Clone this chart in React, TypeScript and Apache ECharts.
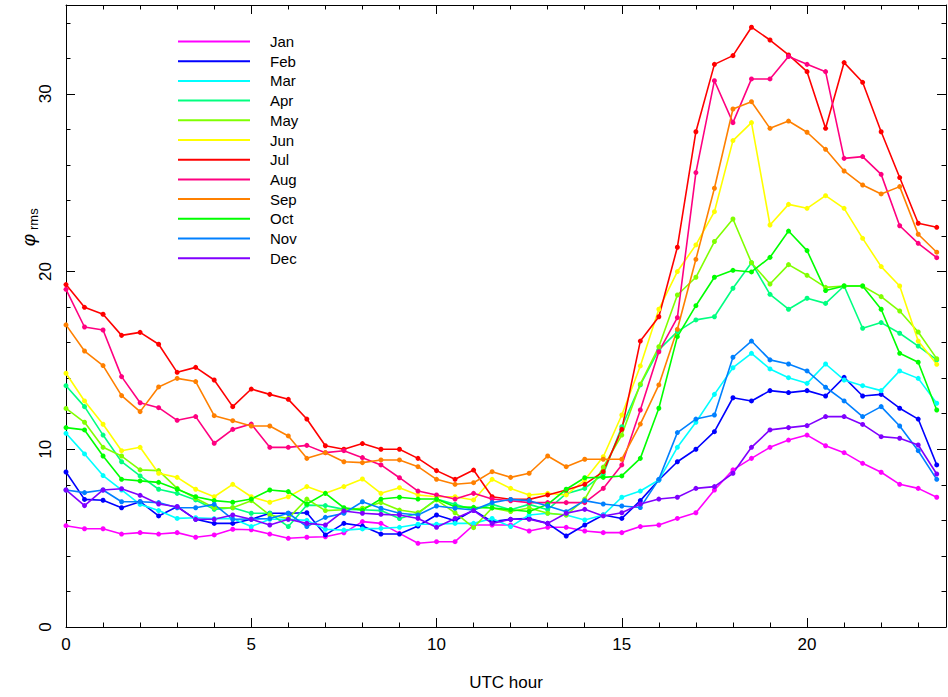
import React, { useEffect, useRef } from "react";
import * as echarts from "echarts";

const HOURS = [0, 0.5, 1, 1.5, 2, 2.5, 3, 3.5, 4, 4.5, 5, 5.5, 6, 6.5, 7, 7.5, 8, 8.5, 9, 9.5, 10, 10.5, 11, 11.5,
  12, 12.5, 13, 13.5, 14, 14.5, 15, 15.5, 16, 16.5, 17, 17.5, 18, 18.5, 19, 19.5, 20, 20.5, 21, 21.5, 22, 22.5, 23, 23.5];

const MONTHS = ["Jan", "Feb", "Mar", "Apr", "May", "Jun", "Jul", "Aug", "Sep", "Oct", "Nov", "Dec"];
const COLORS = ["#ff00ff", "#0000ff", "#00ffff", "#00ff80", "#80ff00", "#ffff00", "#ff0000", "#ff0080", "#ff8000", "#00ff00", "#0080ff", "#8000ff"];

const JAN = [5.7, 5.53, 5.53, 5.23, 5.31, 5.23, 5.31, 5.05, 5.18, 5.5, 5.47, 5.23, 4.99, 5.05, 5.08, 5.3, 5.93, 5.83, 5.27, 4.71, 4.8, 4.8, 5.74, 5.74,
  5.74, 5.4, 5.61, 5.61, 5.4, 5.31, 5.31, 5.65, 5.74, 6.11, 6.43, 7.71, 8.84, 9.49, 10.11, 10.52, 10.8, 10.2, 9.81, 9.21, 8.71, 8.03, 7.8, 7.3];
const FEB = [8.72, 7.18, 7.13, 6.71, 7.05, 6.25, 6.77, 6.06, 5.83, 5.83, 6.06, 6.4, 6.4, 6.43, 5.18, 5.83, 5.68, 5.23, 5.23, 5.68, 6.3, 5.98, 6.58, 5.93,
  6.06, 6.11, 5.83, 5.12, 5.74, 6.3, 6.11, 7.11, 8.27, 9.3, 10.0, 10.99, 12.9, 12.72, 13.3, 13.19, 13.3, 13.0, 14.05, 13.0, 13.09, 12.31, 11.7, 9.12];
const MAR = [10.9, 9.74, 8.52, 7.71, 6.9, 6.55, 6.11, 6.15, 6.1, 6.1, 5.65, 6.06, 6.06, 6.0, 5.5, 5.45, 5.52, 5.55, 5.61, 5.78, 5.78, 5.83, 5.83, 6.11,
  5.65, 6.3, 6.4, 6.3, 6.02, 6.3, 7.3, 7.65, 8.27, 10.11, 11.52, 13.09, 14.59, 15.4, 14.52, 14.03, 13.71, 14.8, 13.9, 13.58, 13.3, 14.41, 13.99, 12.59];
const APR = [13.58, 12.4, 10.8, 9.3, 8.5, 7.75, 7.52, 7.15, 6.62, 6.71, 6.4, 6.4, 5.65, 6.86, 6.83, 6.62, 6.6, 6.55, 6.1, 6.4, 7.2, 6.9, 6.6, 6.9,
  6.6, 6.9, 6.6, 7.5, 7.8, 8.6, 11.27, 13.62, 15.59, 16.62, 17.28, 17.46, 19.06, 20.5, 18.72, 17.88, 18.5, 18.21, 19.19, 16.81, 17.13, 16.53, 15.81, 15.03];
const MAY = [12.3, 11.52, 10.11, 9.62, 8.84, 8.8, 7.8, 7.24, 6.71, 6.71, 7.11, 6.3, 6.11, 7.2, 6.55, 6.6, 6.68, 7.0, 6.58, 6.43, 7.15, 6.43, 5.59, 6.7,
  6.5, 6.7, 6.4, 6.3, 7.2, 9.0, 10.8, 13.67, 15.77, 18.68, 19.68, 21.69, 22.96, 20.5, 19.3, 20.39, 19.79, 19.11, 19.19, 19.19, 18.59, 17.78, 16.6, 15.1];
const JUN = [14.28, 12.72, 11.41, 9.92, 10.11, 8.65, 8.42, 7.75, 7.33, 8.03, 7.33, 7.02, 7.33, 7.9, 7.52, 7.9, 8.33, 7.52, 7.84, 7.43, 7.33, 7.33, 7.15, 8.31,
  7.8, 7.43, 7.52, 7.43, 8.27, 9.58, 11.93, 14.69, 17.88, 20.0, 21.5, 23.37, 27.37, 28.38, 22.62, 23.78, 23.56, 24.27, 23.56, 21.87, 20.28, 19.19, 16.09, 14.78];
const JUL = [19.27, 17.99, 17.6, 16.41, 16.58, 15.91, 14.33, 14.61, 13.9, 12.4, 13.39, 13.09, 12.81, 11.7, 10.2, 10.0, 10.32, 10.0, 10.0, 9.49, 8.8, 8.31, 8.83, 7.33,
  7.18, 7.18, 7.43, 7.71, 8.03, 8.74, 11.12, 16.09, 17.46, 21.37, 27.87, 31.66, 32.15, 33.75, 33.03, 32.19, 31.25, 28.06, 31.76, 30.65, 27.87, 25.29, 22.72, 22.49];
const AUG = [19.0, 16.88, 16.71, 14.09, 12.62, 12.34, 11.63, 11.84, 10.34, 11.12, 11.42, 10.11, 10.11, 10.22, 9.81, 9.92, 9.53, 9.12, 8.4, 7.65, 7.43, 7.2, 7.52, 7.2,
  7.1, 7.0, 7.0, 7.0, 7.0, 7.8, 9.12, 12.21, 15.49, 17.41, 25.57, 30.74, 28.38, 30.84, 30.84, 32.1, 31.66, 31.25, 26.37, 26.47, 25.47, 22.58, 21.59, 20.78];
const SEP = [17.0, 15.53, 14.71, 13.02, 12.12, 13.51, 13.99, 13.81, 11.89, 11.61, 11.31, 11.31, 10.75, 9.49, 9.81, 9.3, 9.25, 9.4, 9.4, 9.02, 8.31, 8.03, 8.12, 8.74,
  8.42, 8.65, 9.62, 9.02, 9.44, 9.44, 9.44, 11.42, 13.62, 16.75, 20.69, 24.69, 29.15, 29.56, 28.06, 28.47, 27.84, 26.88, 25.66, 24.87, 24.37, 24.78, 22.1, 21.09];
const OCT = [11.22, 11.09, 9.62, 8.31, 8.22, 8.14, 7.75, 7.33, 7.11, 7.02, 7.2, 7.71, 7.62, 6.92, 7.52, 6.71, 6.58, 7.2, 7.3, 7.2, 7.2, 6.77, 6.73, 6.7,
  6.6, 6.5, 6.9, 7.75, 8.4, 8.42, 8.5, 9.49, 12.31, 16.34, 18.08, 19.68, 20.07, 19.98, 20.8, 22.28, 21.18, 18.93, 19.19, 19.19, 17.88, 15.4, 14.9, 12.21];
const NOV = [7.71, 7.56, 7.71, 7.05, 7.05, 7.0, 6.71, 6.71, 6.9, 6.06, 6.08, 6.1, 6.4, 5.65, 6.17, 6.4, 7.05, 6.68, 6.4, 6.3, 6.81, 6.68, 6.58, 7.0,
  7.18, 7.11, 6.81, 6.49, 7.11, 6.92, 6.81, 6.72, 8.31, 10.94, 11.7, 11.93, 15.18, 16.09, 15.03, 14.8, 14.41, 13.49, 12.72, 11.84, 12.4, 11.31, 9.92, 8.31];
const DEC = [7.71, 6.83, 7.71, 7.78, 7.41, 6.92, 6.77, 6.06, 6.06, 6.3, 6.06, 5.74, 6.06, 5.83, 5.74, 6.53, 6.4, 6.34, 6.3, 6.11, 5.61, 6.11, 6.55, 5.83,
  6.06, 6.06, 5.83, 6.4, 6.62, 6.25, 6.43, 6.92, 7.2, 7.3, 7.8, 7.9, 8.65, 10.11, 11.09, 11.22, 11.33, 11.84, 11.84, 11.4, 10.71, 10.62, 10.24, 8.61];

const VALUES = [JAN, FEB, MAR, APR, MAY, JUN, JUL, AUG, SEP, OCT, NOV, DEC];

const FONT = "Liberation Sans";

export default function App() {
  const ref = useRef<HTMLDivElement>(null);
  useEffect(() => {
    const chart = echarts.init(ref.current!, null, { renderer: "svg" });
    const axisLine = { show: true, onZero: false, lineStyle: { color: "#000", width: 1 } };
    const xMajor = (position: string, labels: boolean) => ({
      type: "value", position, min: 0, max: 23.75, interval: 5,
      axisLine, splitLine: { show: false },
      axisTick: { show: true, inside: true, length: 9, lineStyle: { color: "#000" } },
      axisLabel: labels ? {
        show: true, margin: 9, fontSize: 17, fontFamily: FONT, color: "#000", showMaxLabel: false,
        formatter: (v: number) => (v % 5 === 0 ? String(v) : ""),
      } : { show: false },
    });
    const xMinor = (position: string) => ({
      type: "value", position, min: 0, max: 23.75, interval: 1,
      axisLine: { show: false, onZero: false }, splitLine: { show: false }, axisLabel: { show: false },
      axisTick: { show: true, inside: true, length: 4.5, lineStyle: { color: "#000" } },
    });
    const yMajor = (position: string, labels: boolean) => ({
      type: "value", position, min: 0, max: 35, interval: 10,
      axisLine, splitLine: { show: false },
      axisTick: { show: true, inside: true, length: 9, lineStyle: { color: "#000" } },
      axisLabel: labels ? {
        show: true, rotate: 90, margin: 12, fontSize: 17, fontFamily: FONT, color: "#000", showMaxLabel: false,
        formatter: (v: number) => (v % 10 === 0 ? String(v) : ""),
      } : { show: false },
    });
    const yMinor = (position: string) => ({
      type: "value", position, min: 0, max: 35, interval: 2,
      axisLine: { show: false, onZero: false }, splitLine: { show: false }, axisLabel: { show: false },
      axisTick: { show: true, inside: true, length: 4.5, lineStyle: { color: "#000" } },
    });

    const xBottom: any = xMajor("bottom", true);
    xBottom.name = "UTC hour";
    xBottom.nameLocation = "middle";
    xBottom.nameGap = 47;
    xBottom.nameTextStyle = { fontSize: 17, fontFamily: FONT, color: "#000" };

    chart.setOption({
      animation: false,
      backgroundColor: "#fff",
      grid: { left: 66, right: 2, top: 5, bottom: 70 },
      xAxis: [xBottom, xMinor("bottom"), xMajor("top", false), xMinor("top")],
      yAxis: [yMajor("left", true), yMinor("left"), yMajor("right", false), yMinor("right")],
      legend: {
        orient: "vertical", left: 173, top: 29, itemWidth: 72, itemHeight: 2, icon: "rect",
        itemGap: 4.7, data: MONTHS,
        textStyle: { fontSize: 15, lineHeight: 15, fontFamily: FONT, color: "#000", padding: [0, 0, 0, 15] },
      },
      graphic: [
        {
          type: "group", x: 28, y: 232, rotation: Math.PI / 2,
          children: [
            { type: "text", x: -8, y: 0, style: { text: "φ", font: `italic 19px ${FONT}`, fill: "#000", textAlign: "center", textVerticalAlign: "middle" } },
            { type: "text", x: 2, y: 5, style: { text: "rms", font: `13px ${FONT}`, fill: "#000", textAlign: "left", textVerticalAlign: "middle" } },
          ],
        },
      ],
      series: MONTHS.map((m, i) => ({
        name: m, type: "line", xAxisIndex: 0, yAxisIndex: 0,
        data: HOURS.map((h, j) => [h, VALUES[i][j]]),
        symbol: "circle", symbolSize: 5, showSymbol: true,
        lineStyle: { color: COLORS[i], width: 1.6 },
        itemStyle: { color: COLORS[i] },
        emphasis: { disabled: true },
      })),
    });
    return () => chart.dispose();
  }, []);
  return <div ref={ref} style={{ position: "fixed", left: 0, top: 0, width: 948, height: 697 }} />;
}
